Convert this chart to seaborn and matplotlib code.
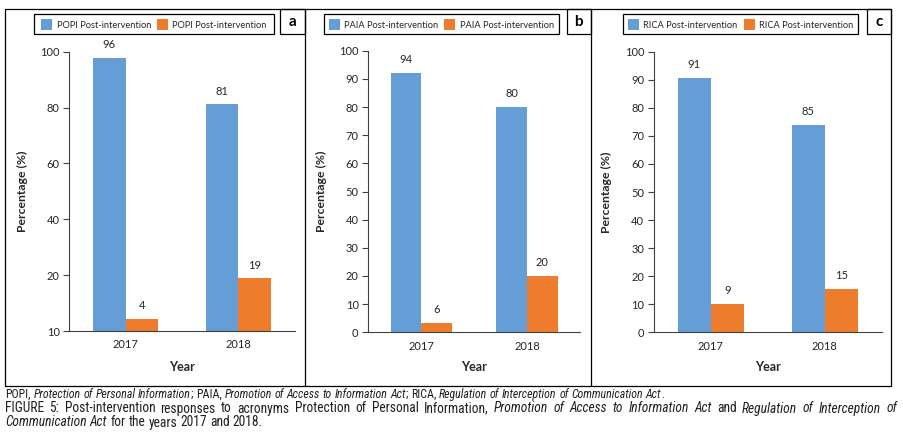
import re
import numpy as np
import pandas as pd
import matplotlib
matplotlib.use("Agg")
import matplotlib.pyplot as plt
import seaborn as sns
from matplotlib.patches import Rectangle
from matplotlib.lines import Line2D
from matplotlib.transforms import blended_transform_factory
from matplotlib import font_manager

# ---------------- data ----------------
years = ["2017", "2018"]
panel_letters = ["a", "b", "c"]
acronyms = ["POPI", "PAIA", "RICA"]

# bar heights as drawn
popi_blue = [97.9, 81.1]
popi_orange = [4.4, 18.9]
paia_blue = [92.2, 80.0]
paia_orange = [3.3, 20.0]
rica_blue = [90.6, 73.9]
rica_orange = [10.1, 15.5]

# printed data labels
popi_blue_labels = ["96", "81"]
popi_orange_labels = ["4", "19"]
paia_blue_labels = ["94", "80"]
paia_orange_labels = ["6", "20"]
rica_blue_labels = ["91", "85"]
rica_orange_labels = ["9", "15"]

legend_suffix = "Post-intervention"

popi_yticks = [0, 20, 40, 60, 80, 100]
popi_yticklabels = ["10", "20", "40", "60", "80", "100"]
other_yticks = [0, 10, 20, 30, 40, 50, 60, 70, 80, 90, 100]
other_yticklabels = ["0", "10", "20", "30", "40", "50", "60", "70", "80", "90", "100"]

# ---------------- style ----------------
W, H = 904, 443
sns.set_style("white")
avail = {f.name for f in font_manager.fontManager.ttflist}
chart_font = "Lato" if "Lato" in avail else "DejaVu Sans"
cap_font = None
for cand in ["Liberation Sans Narrow", "Roboto Condensed", "Liberation Sans"]:
    if cand in avail:
        cap_font = cand
        break
if cap_font is None:
    cap_font = "DejaVu Sans"
plt.rcParams["font.family"] = [chart_font, "DejaVu Sans"]

BLUE = "#659ED6"
ORANGE = "#ED7D2C"
TXT = "#262626"

fig = plt.figure(figsize=(W / 100, H / 100), dpi=100)
fig.canvas.draw()
renderer = fig.canvas.get_renderer()


def fx(x):
    return x / W


def fy(y):
    return 1 - y / H


def frame_rect(x0, y0, x1, y1, lw=0.9, fill=False, color="black"):
    fig.add_artist(Rectangle((fx(x0), fy(y1)), fx(x1) - fx(x0), fy(y0) - fy(y1),
                             transform=fig.transFigure, fill=fill,
                             facecolor=color if fill else "none",
                             edgecolor="none" if fill else "black", linewidth=0 if fill else lw))


def vline(x, y0, y1, lw=0.9):
    fig.add_artist(Line2D([fx(x), fx(x)], [fy(y0), fy(y1)], transform=fig.transFigure,
                          color="black", linewidth=lw))


def text_width(s, size, style="normal", family=None, weight="normal"):
    t = fig.text(0, 0, s, fontsize=size, family=family or chart_font, style=style, weight=weight)
    w = t.get_window_extent(renderer=renderer).width
    t.remove()
    return w


# outer frames
frame_rect(5, 9, 890.7, 385.7)
vline(305.3, 9, 385.7)
vline(590.7, 9, 385.7)

panels = [
    dict(blue=popi_blue, orange=popi_orange, bl=popi_blue_labels, ol=popi_orange_labels,
         yt=popi_yticks, ytl=popi_yticklabels,
         ax=(69.3, 51.7, 294.7, 331.0), leg=(34, 14, 274, 34), let=(280.3, 9, 305.3, 34),
         ylab_x=28.0),
    dict(blue=paia_blue, orange=paia_orange, bl=paia_blue_labels, ol=paia_orange_labels,
         yt=other_yticks, ytl=other_yticklabels,
         ax=(368.3, 50.7, 580.0, 332.3), leg=(324, 14, 559, 34), let=(566.7, 9, 590.7, 34),
         ylab_x=327.0),
    dict(blue=rica_blue, orange=rica_orange, bl=rica_blue_labels, ol=rica_orange_labels,
         yt=other_yticks, ytl=other_yticklabels,
         ax=(654.0, 51.7, 881.7, 332.3), leg=(623, 14, 858, 34), let=(866.7, 9, 890.7, 34),
         ylab_x=612.0),
]

leg_size = 7.3 * 95.0 / text_width("POPI " + legend_suffix, 7.3)

for i, p in enumerate(panels):
    x0, y0, x1, y1 = p["ax"]
    ax = fig.add_axes([fx(x0), fy(y1), fx(x1) - fx(x0), fy(y0) - fy(y1)])
    df = pd.DataFrame({
        "Year": years + years,
        "Series": ["blue"] * len(years) + ["orange"] * len(years),
        "Value": list(p["blue"]) + list(p["orange"]),
    })
    sns.barplot(data=df, x="Year", y="Value", hue="Series", hue_order=["blue", "orange"],
                order=years, palette={"blue": BLUE, "orange": ORANGE},
                width=0.58, gap=0, saturation=1, errorbar=None, legend=False,
                linewidth=0, edgecolor="none", ax=ax)
    for c, labs in zip(ax.containers, [p["bl"], p["ol"]]):
        ax.bar_label(c, labels=labs, padding=5.5, fontsize=8, color=TXT)
    ax.set_xlim(-0.5, 1.5)
    ax.set_ylim(0, 100)
    ax.set_yticks(p["yt"])
    ax.set_yticklabels(p["ytl"])
    ax.set_xticks([-0.5, 0.5, 1.5], minor=True)
    ax.tick_params(axis="x", which="major", length=0, pad=6, labelsize=8, labelcolor=TXT)
    ax.tick_params(axis="x", which="minor", length=4, width=0.8, color="#8c8c8c", direction="out")
    ax.tick_params(axis="y", length=4, width=0.8, color="#404040", pad=3, labelsize=8,
                   labelcolor=TXT, direction="out", left=True)
    for s in ["top", "right"]:
        ax.spines[s].set_visible(False)
    ax.spines["left"].set_color("#404040")
    ax.spines["bottom"].set_color("#404040")
    ax.spines["left"].set_linewidth(0.8)
    ax.spines["bottom"].set_linewidth(0.8)
    ax.set_xlabel("Year", fontsize=9, fontweight="bold", color=TXT)
    ax.xaxis.set_label_coords(0.5, fy(361), transform=blended_transform_factory(ax.transAxes, fig.transFigure))
    ax.set_ylabel("Percentage (%)", fontsize=8.8, fontweight="bold", color=TXT)
    ax.yaxis.set_label_coords(fx(p["ylab_x"]), 0.5, transform=blended_transform_factory(fig.transFigure, ax.transAxes))

    # legend box (drawn manually)
    lx0, ly0, lx1, ly1 = p["leg"]
    frame_rect(lx0, ly0, lx1, ly1)
    label = f"{acronyms[i]} {legend_suffix}"
    lw_ = text_width(label, leg_size)
    sq = 11.0
    content = 2 * (sq + 4.5 + lw_) + 6
    cx = (lx0 + lx1) / 2 - content / 2
    cy = (ly0 + ly1) / 2
    for col in [BLUE, ORANGE]:
        frame_rect(cx, cy - sq / 2, cx + sq, cy + sq / 2, fill=True, color=col)
        fig.text(fx(cx + sq + 4.5), fy(cy), label, ha="left", va="center_baseline",
                 fontsize=leg_size, color=TXT)
        cx += sq + 4.5 + lw_ + 6
    # letter box
    bx0, by0, bx1, by1 = p["let"]
    frame_rect(bx0, by0, bx1, by1)
    fig.text(fx((bx0 + bx1) / 2), fy((by0 + by1) / 2), panel_letters[i], ha="center", va="center",
             fontsize=11, fontweight="bold", color="black")

# ---------------- caption ----------------


def parse(segs):
    items = []
    pending = False
    for txt, st in segs:
        for m in re.findall(r"\s+|\S+", txt):
            if m.isspace():
                pending = True
            else:
                items.append((m, st, pending and len(items) > 0))
                pending = False
    return items


def space_width(size):
    return text_width("a a", size, family=cap_font) - text_width("aa", size, family=cap_font)


def natural_width(segs, size):
    items = parse(segs)
    return sum(text_width(w, size, st, family=cap_font) for w, st, _ in items) + \
        space_width(size) * sum(1 for it in items if it[2])


def layout_line(segs, x0, y, size, x1=None):
    items = parse(segs)
    widths = [text_width(w, size, st, family=cap_font) for w, st, _ in items]
    space = space_width(size)
    ngaps = sum(1 for it in items if it[2])
    gap = (x1 - x0 - sum(widths)) / ngaps if (x1 is not None and ngaps) else space
    x = x0
    for (w, st, sp), wd in zip(items, widths):
        if sp:
            x += gap
        fig.text(fx(x), fy(y), w, fontsize=size, family=cap_font, style=st,
                 ha="left", va="baseline", color="#231f20")
        x += wd


line1 = [("POPI, ", "normal"), ("Protection of Personal Information", "italic"),
         ("; PAIA, ", "normal"), ("Promotion of Access to Information Act", "italic"),
         ("; RICA, ", "normal"), ("Regulation of Interception of Communication Act", "italic"),
         (".", "normal")]
line2 = [("FIGURE 5: Post-intervention responses to acronyms Protection of Personal Information, ", "normal"),
         ("Promotion of Access to Information Act", "italic"), (" and ", "normal"),
         ("Regulation of Interception of", "italic")]
line3 = [("Communication Act", "italic"), (" for the years 2017 and 2018.", "normal")]

s1 = 7.0 * 662.0 / natural_width(line1, 7.0)
s2 = 8.0 * 850.0 / natural_width(line2, 8.0)

layout_line(line1, 5, 398, s1)
layout_line(line2, 5, 412.5, s2, x1=897)
layout_line(line3, 5, 426.5, s2)

fig.savefig("out.png", dpi=100)
